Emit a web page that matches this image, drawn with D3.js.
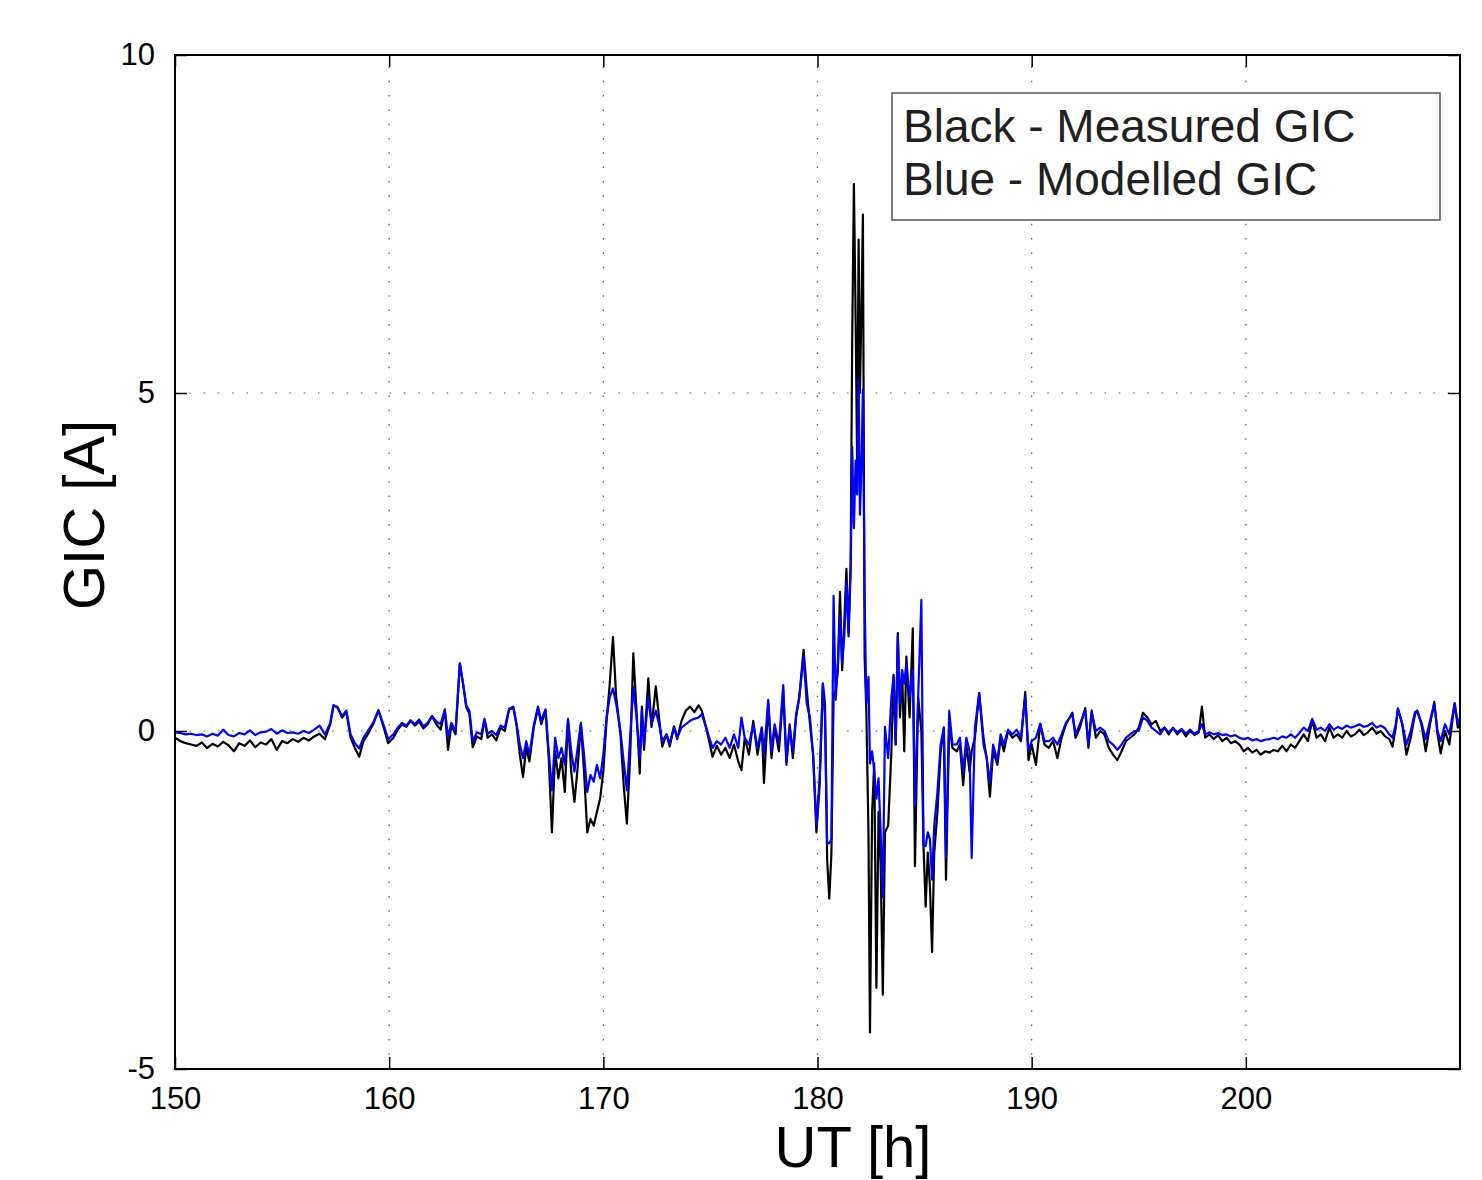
<!DOCTYPE html>
<html>
<head>
<meta charset="utf-8">
<script src="https://cdn.jsdelivr.net/npm/d3@7"></script>
<style>
  body { margin: 0; background: #fff; }
  svg { display: block; font-family: "Liberation Sans", Arial, sans-serif; }
</style>
</head>
<body>
<svg width="1482" height="1180"></svg>
<script>
// time in hours (UT), shared by both series
var hours = [150.0,150.25,150.5,150.75,151.0,151.25,151.5,151.75,152.0,152.25,152.5,152.75,153.0,153.25,153.5,153.75,154.0,154.25,154.5,154.75,155.0,155.25,155.5,155.75,156.0,156.25,156.5,156.75,157.0,157.25,157.4,157.6,157.8,158.0,158.2,158.4,158.6,158.8,159.0,159.25,159.5,159.75,159.95,160.2,160.4,160.6,160.8,161.0,161.2,161.4,161.6,161.8,162.0,162.2,162.4,162.6,162.75,162.9,163.1,163.3,163.45,163.6,163.75,163.9,164.1,164.3,164.45,164.6,164.8,165.0,165.2,165.4,165.6,165.8,165.95,166.1,166.25,166.4,166.55,166.75,166.95,167.1,167.3,167.45,167.6,167.75,167.9,168.05,168.2,168.35,168.5,168.65,168.8,168.95,169.1,169.25,169.4,169.55,169.7,169.85,170.0,170.15,170.3,170.45,170.6,170.8,170.95,171.1,171.25,171.4,171.55,171.7,171.8,171.9,172.1,172.25,172.45,172.6,172.75,172.95,173.1,173.3,173.45,173.65,173.85,174.05,174.25,174.45,174.6,174.8,175.1,175.3,175.5,175.7,175.9,176.1,176.3,176.45,176.6,176.8,177.0,177.2,177.4,177.5,177.7,177.85,178.0,178.2,178.4,178.55,178.7,178.85,179.0,179.15,179.35,179.5,179.65,179.8,179.95,180.1,180.25,180.35,180.45,180.55,180.65,180.75,180.85,180.95,181.05,181.15,181.25,181.35,181.45,181.55,181.62,181.7,181.78,181.85,181.92,181.98,182.05,182.12,182.2,182.28,182.38,182.45,182.55,182.65,182.75,182.85,182.95,183.05,183.15,183.3,183.45,183.55,183.65,183.75,183.85,183.95,184.05,184.15,184.3,184.45,184.55,184.7,184.85,184.95,185.05,185.15,185.25,185.35,185.45,185.6,185.75,185.9,186.0,186.15,186.3,186.5,186.65,186.8,186.95,187.1,187.2,187.35,187.55,187.75,187.9,188.05,188.2,188.4,188.55,188.7,188.9,189.1,189.3,189.5,189.7,189.85,190.0,190.2,190.4,190.6,190.8,191.0,191.2,191.4,191.6,191.9,192.05,192.25,192.5,192.65,192.8,193.0,193.2,193.4,193.6,193.8,194.0,194.2,194.4,194.6,194.8,195.0,195.2,195.4,195.6,195.8,196.0,196.2,196.4,196.6,196.8,197.0,197.2,197.4,197.6,197.8,197.95,198.1,198.3,198.5,198.7,198.9,199.1,199.3,199.5,199.7,199.9,200.1,200.3,200.5,200.7,200.9,201.1,201.3,201.5,201.7,201.9,202.1,202.3,202.5,202.7,202.9,203.1,203.3,203.5,203.7,203.9,204.1,204.3,204.5,204.7,204.9,205.1,205.3,205.5,205.7,205.9,206.1,206.3,206.5,206.7,206.85,207.0,207.1,207.3,207.5,207.7,207.9,208.0,208.2,208.4,208.6,208.8,208.95,209.1,209.3,209.5,209.75,209.9,210.0]

// measured GIC [A] (black)
var measured = [-0.10,-0.15,-0.18,-0.20,-0.22,-0.17,-0.25,-0.19,-0.23,-0.16,-0.21,-0.30,-0.18,-0.22,-0.14,-0.24,-0.17,-0.20,-0.12,-0.28,-0.15,-0.18,-0.12,-0.16,-0.10,-0.14,-0.08,-0.04,-0.12,0.10,0.38,0.35,0.20,0.28,-0.10,-0.25,-0.38,-0.15,-0.05,0.10,0.31,0.05,-0.18,-0.10,0.02,0.10,0.06,0.15,0.08,0.14,0.04,0.10,0.22,0.10,0.02,0.30,-0.28,0.08,-0.05,1.00,0.70,0.35,0.25,-0.24,-0.08,-0.12,0.16,-0.10,-0.05,-0.14,0.05,0.00,0.32,0.34,0.08,-0.35,-0.68,-0.25,-0.45,0.05,0.34,0.10,0.30,-0.40,-1.50,-0.30,-0.70,-0.40,-0.90,0.16,-0.60,-1.05,-0.55,0.10,-0.60,-1.50,-1.30,-1.40,-1.20,-1.00,-0.60,0.15,0.70,1.39,0.50,-0.05,-0.80,-1.37,-0.40,1.15,0.30,-0.63,0.36,-0.28,0.78,0.06,0.66,0.20,-0.23,-0.05,-0.23,0.07,-0.12,0.15,0.30,0.36,0.28,0.38,0.30,0.05,-0.38,-0.22,-0.35,-0.25,-0.40,-0.20,-0.45,-0.58,-0.10,-0.35,0.15,-0.35,0.05,-0.77,0.40,-0.40,0.05,-0.30,0.60,-0.50,0.10,-0.40,0.20,0.50,1.20,0.60,0.10,-0.35,-1.50,-0.80,0.70,0.40,-1.90,-2.48,-1.80,0.50,0.60,0.90,2.06,0.90,1.60,2.40,1.45,2.50,5.80,8.09,6.10,4.00,7.27,5.00,6.20,7.64,1.10,0.30,-1.50,-4.46,-1.20,-0.48,-3.80,-1.20,-2.00,-3.90,-1.50,-1.40,-0.30,0.83,-0.20,1.45,0.20,0.90,-0.30,1.10,0.20,1.52,-2.00,0.50,0.00,-1.70,-2.60,-1.80,-2.30,-3.27,-1.80,-1.20,-0.30,0.05,-2.20,0.12,-0.25,-0.30,-0.20,-0.80,-0.20,-0.60,-0.30,-0.10,0.56,-0.10,-0.40,-0.97,-0.30,-0.50,-0.10,-0.30,0.00,-0.10,-0.05,-0.15,0.58,-0.43,-0.20,-0.50,0.10,-0.20,-0.25,-0.15,-0.40,-0.10,0.10,0.27,-0.10,0.05,0.34,-0.25,0.30,-0.10,0.00,-0.05,-0.25,-0.35,-0.43,-0.30,-0.15,-0.10,-0.05,0.05,0.27,0.20,0.10,0.15,0.00,0.05,-0.05,0.05,-0.05,0.02,-0.08,0.00,-0.06,-0.02,0.36,-0.10,-0.05,-0.12,-0.06,-0.15,-0.10,-0.18,-0.15,-0.20,-0.30,-0.25,-0.32,-0.28,-0.35,-0.30,-0.32,-0.28,-0.30,-0.22,-0.30,-0.20,-0.25,-0.15,-0.05,-0.15,0.16,-0.10,-0.05,-0.15,0.05,-0.10,-0.05,-0.10,0.00,-0.08,-0.05,0.02,-0.06,-0.02,0.05,-0.04,0.00,-0.08,-0.12,-0.23,0.05,0.33,0.10,-0.35,-0.10,0.25,0.30,0.10,-0.30,0.10,0.43,-0.05,-0.33,0.00,-0.20,0.41,0.05,0.15]

// modelled GIC [A] (blue)
var modelled = [-0.02,-0.03,-0.05,-0.04,-0.06,-0.05,-0.08,-0.04,-0.07,0.02,-0.06,-0.08,-0.03,-0.05,0.01,-0.06,-0.02,-0.01,0.03,-0.04,0.01,-0.03,-0.02,-0.04,0.00,-0.03,0.02,0.08,-0.05,0.12,0.38,0.34,0.22,0.30,-0.05,-0.18,-0.26,-0.10,0.00,0.12,0.30,0.08,-0.12,-0.05,0.05,0.12,0.08,0.16,0.10,0.17,0.07,0.12,0.22,0.14,0.10,0.32,-0.10,0.12,0.00,1.00,0.70,0.38,0.30,-0.15,-0.02,-0.05,0.18,-0.04,0.00,-0.06,0.08,0.05,0.33,0.36,0.10,-0.20,-0.40,-0.15,-0.35,0.08,0.36,0.15,0.32,-0.30,-0.88,-0.10,-0.40,-0.25,-0.50,0.18,-0.30,-0.60,-0.25,0.12,-0.35,-0.90,-0.65,-0.75,-0.50,-0.70,-0.35,0.20,0.50,0.63,0.40,0.00,-0.45,-0.88,-0.10,0.65,0.20,-0.40,0.30,-0.20,0.50,0.10,0.30,0.10,-0.15,-0.05,-0.18,0.05,-0.10,0.05,0.10,0.15,0.18,0.20,0.25,0.05,-0.25,-0.15,-0.20,-0.10,-0.25,-0.05,-0.25,0.20,-0.10,-0.20,0.10,-0.25,0.05,-0.35,0.46,-0.30,0.10,-0.20,0.68,-0.45,0.05,-0.30,0.25,0.50,1.10,0.40,0.20,-0.40,-1.40,-0.70,0.70,0.20,-1.66,-1.66,-1.60,2.00,0.46,1.00,1.70,1.00,1.40,2.20,1.40,2.40,4.20,3.00,4.00,3.50,5.20,3.20,3.90,5.05,2.00,0.40,0.80,-0.48,-0.30,-0.60,-1.00,-0.70,-1.50,-2.46,0.06,-0.40,0.50,0.80,-0.20,1.40,0.40,0.90,0.70,1.00,0.50,0.90,-1.10,0.50,1.94,-1.70,-1.70,-1.50,-1.60,-2.20,-1.40,-0.90,-0.20,0.05,-1.86,0.30,-0.20,-0.20,-0.10,-0.60,-0.10,-0.30,-1.88,0.05,0.56,-0.20,-0.40,-0.77,-0.20,-0.45,-0.05,-0.20,0.02,-0.05,0.02,-0.10,0.50,-0.30,-0.15,-0.10,0.11,-0.15,-0.15,-0.10,-0.20,-0.05,0.12,0.25,-0.05,0.10,0.30,-0.20,0.28,0.00,0.05,0.00,-0.15,-0.20,-0.28,-0.20,-0.10,-0.05,0.00,0.00,0.20,0.15,0.05,0.00,-0.05,0.05,-0.02,0.04,-0.02,0.03,-0.04,0.02,-0.04,0.00,0.10,-0.05,-0.02,-0.05,-0.03,-0.06,-0.05,-0.08,-0.06,-0.10,-0.12,-0.10,-0.14,-0.12,-0.15,-0.13,-0.12,-0.10,-0.12,-0.08,-0.10,-0.05,-0.10,-0.03,0.05,0.00,0.18,0.02,0.05,0.00,0.10,0.02,0.06,0.03,0.08,0.05,0.07,0.10,0.06,0.08,0.12,0.05,0.08,0.04,-0.05,-0.10,0.10,0.33,0.12,-0.20,0.00,0.28,0.30,0.12,-0.12,0.15,0.40,0.00,-0.15,0.10,-0.05,0.41,0.10,0.20]

var xTicks = [150, 160, 170, 180, 190, 200]
var yTicks = [-5, 0, 5, 10]
var legendLines = ["Black - Measured GIC", "Blue - Modelled GIC"]

var svg = d3.select("svg")
var padL = 175, padR = 1460, padT = 55, padB = 1069

var x = d3.scaleLinear().domain([150, 210]).range([padL, padR])
var y = d3.scaleLinear().domain([-5, 10]).range([padB, padT])

// dotted grid
var grid = svg.append("g").attr("stroke", "#555").attr("stroke-width", 1.2)
  .attr("stroke-dasharray", "1.5,12.8")
grid.selectAll(".gx").data(xTicks.slice(1)).enter().append("line")
  .attr("x1", d => x(d)).attr("x2", d => x(d))
  .attr("y1", padB).attr("y2", padT)
grid.selectAll(".gy").data([0, 5]).enter().append("line")
  .attr("y1", d => y(d)).attr("y2", d => y(d))
  .attr("x1", padL).attr("x2", padR)

// series
var line = d3.line()
  .x(d => x(d[0]))
  .y(d => y(d[1]))

svg.append("path")
  .datum(d3.zip(hours, measured))
  .attr("d", line)
  .attr("fill", "none")
  .attr("stroke", "#000")
  .attr("stroke-width", 2.2)
  .attr("stroke-linejoin", "round")

svg.append("path")
  .datum(d3.zip(hours, modelled))
  .attr("d", line)
  .attr("fill", "none")
  .attr("stroke", "#0000ff")
  .attr("stroke-width", 2.2)
  .attr("stroke-linejoin", "round")

// axes box, matlab style ticks inside
var tickLen = 12
var plain = d => String(d)
svg.append("g")
  .attr("transform", `translate(0,${padB})`)
  .call(d3.axisBottom(x).tickValues(xTicks).tickFormat(plain).tickSizeInner(-tickLen).tickSizeOuter(0).tickPadding(tickLen + 6))
  .call(g => g.select(".domain").remove())
svg.append("g")
  .attr("transform", `translate(0,${padT})`)
  .call(d3.axisTop(x).tickValues(xTicks).tickSizeInner(-tickLen).tickSizeOuter(0).tickFormat(""))
  .call(g => g.select(".domain").remove())
svg.append("g")
  .attr("transform", `translate(${padL},0)`)
  .call(d3.axisLeft(y).tickValues(yTicks).tickFormat(plain).tickSizeInner(-tickLen).tickSizeOuter(0).tickPadding(tickLen + 8))
  .call(g => g.select(".domain").remove())
svg.append("g")
  .attr("transform", `translate(${padR},0)`)
  .call(d3.axisRight(y).tickValues(yTicks).tickSizeInner(-tickLen).tickSizeOuter(0).tickFormat(""))
  .call(g => g.select(".domain").remove())

svg.selectAll(".tick line").attr("stroke", "#000").attr("stroke-width", 1.5)
svg.selectAll(".tick text")
  .attr("font-family", "Liberation Sans, Arial, sans-serif")
  .attr("font-size", 31)
  .attr("fill", "#000")

svg.append("rect")
  .attr("x", padL).attr("y", padT)
  .attr("width", padR - padL).attr("height", padB - padT)
  .attr("fill", "none").attr("stroke", "#000").attr("stroke-width", 2)

// axis titles
svg.append("text")
  .attr("x", 853).attr("y", 1167)
  .attr("text-anchor", "middle")
  .attr("font-size", 58)
  .text("UT [h]")

svg.append("text")
  .attr("transform", "translate(104,515) rotate(-90)")
  .attr("text-anchor", "middle")
  .attr("font-size", 58)
  .text("GIC [A]")

// legend
svg.append("rect")
  .attr("x", 892).attr("y", 93)
  .attr("width", 548).attr("height", 127)
  .attr("fill", "#fff").attr("stroke", "#555").attr("stroke-width", 1.5)

svg.selectAll(".leg").data(legendLines).enter().append("text")
  .attr("x", 903)
  .attr("y", (d, i) => 142 + i * 53)
  .attr("font-size", 46)
  .attr("fill", "#231f20")
  .text(d => d)
</script>
</body>
</html>
